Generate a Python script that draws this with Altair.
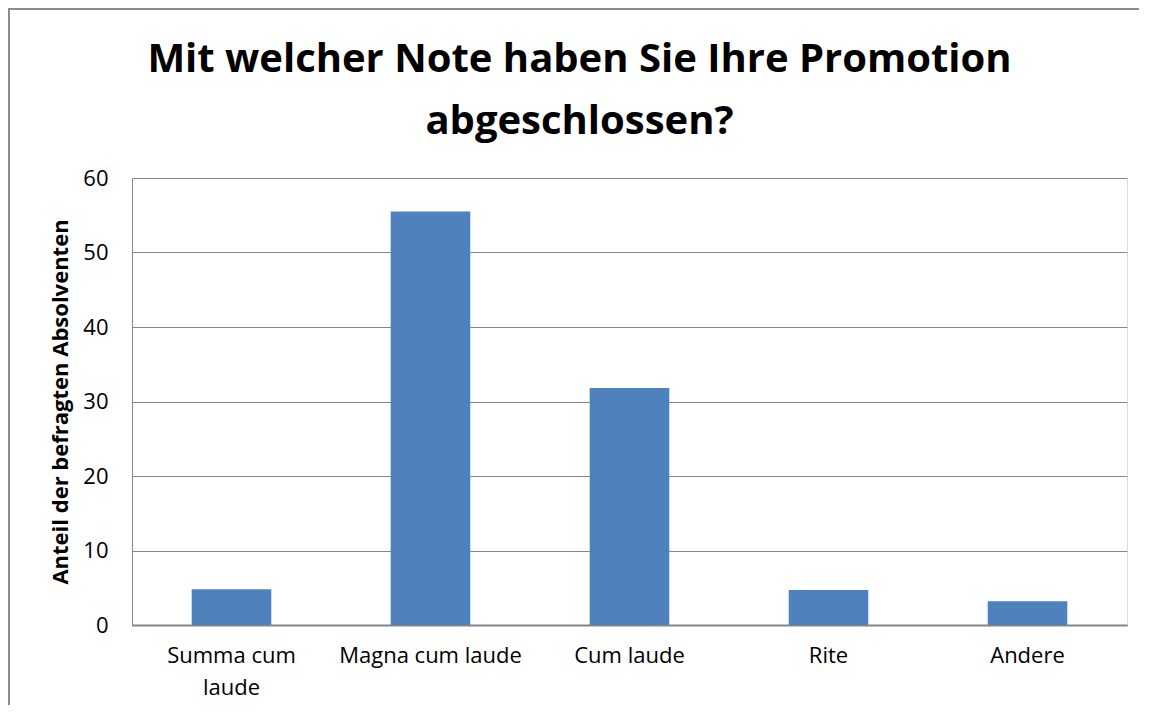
import altair as alt
import pandas as pd

categories = ["Summa cum laude", "Magna cum laude", "Cum laude", "Rite", "Andere"]
values = [4.8, 55.5, 31.8, 4.7, 3.2]
y_ticks = [0, 10, 20, 30, 40, 50, 60]
title_lines = ["Mit welcher Note haben Sie Ihre Promotion", "abgeschlossen?"]
y_title = "Anteil der befragten Absolventen"

df = pd.DataFrame({"Note": categories, "Anteil": values})

FONT = "Open Sans"
GRAY = "#868686"

bars = alt.Chart(df).mark_bar(color="#4F81BD").encode(
    x=alt.X(
        "Note:N",
        sort=categories,
        scale=alt.Scale(paddingInner=0.6, paddingOuter=0.3),
        axis=alt.Axis(
            title=None,
            labelAngle=0,
            labelFont=FONT,
            labelFontSize=22,
            labelColor="#000000",
            labelPadding=20,
            labelLineHeight=32,
            labelLimit=400,
            labelExpr="datum.label == 'Summa cum laude' ? ['Summa cum', 'laude'] : datum.label",
            ticks=False,
            domainColor=GRAY,
            domainWidth=2,
            grid=False,
        ),
    ),
    y=alt.Y(
        "Anteil:Q",
        scale=alt.Scale(domain=[0, 60], nice=False),
        axis=alt.Axis(
            title=y_title,
            values=y_ticks,
            titleFont=FONT,
            titleFontSize=22,
            titleFontWeight="bold",
            titleColor="#000000",
            titlePadding=10,
            labelFont=FONT,
            labelFontSize=22,
            labelColor="#000000",
            labelPadding=24,
            ticks=False,
            domainColor=GRAY,
            domainWidth=1,
            grid=True,
            gridColor=GRAY,
            gridWidth=1,
        ),
    ),
)

frame_left = alt.Chart(df).mark_rule(color="#8C8C8C", strokeWidth=2, clip=False).encode(
    x=alt.value(-123), y=alt.value(-170), y2=alt.value(540)
)
frame_top = alt.Chart(df).mark_rule(color="#8C8C8C", strokeWidth=2, clip=False).encode(
    y=alt.value(-169), x=alt.value(-124), x2=alt.value(1020)
)

chart = (
    alt.layer(bars, frame_left, frame_top)
    .properties(
        width=995,
        height=447,
        autosize=alt.AutoSizeParams(type="none"),
        padding={"left": 124, "top": 170, "right": 12, "bottom": 80},
        title=alt.TitleParams(
            text=title_lines,
            font=FONT,
            fontSize=40,
            fontWeight="bold",
            color="#000000",
            lineHeight=62,
            anchor="middle",
            dx=-50,
            offset=-135,
        ),
    )
    .configure_view(stroke=None)
    .configure(background="white")
)

chart.save("out.html", embed_options={"renderer": "svg", "actions": False})
